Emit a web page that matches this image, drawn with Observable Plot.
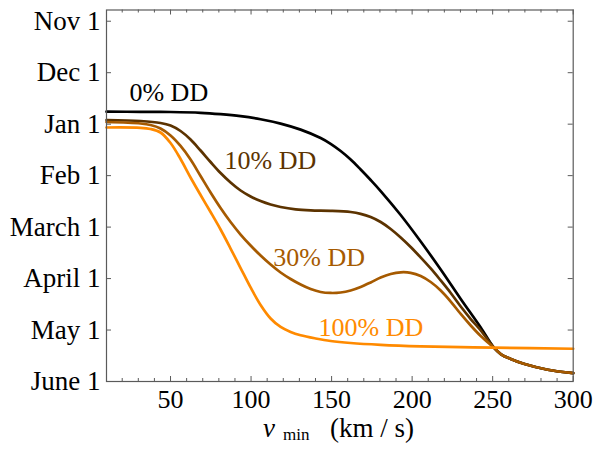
<!DOCTYPE html>
<html><head><meta charset="utf-8">
<script src="https://cdn.jsdelivr.net/npm/d3@7"></script>
<script src="https://cdn.jsdelivr.net/npm/@observablehq/plot@0.6"></script>
<style>html,body{margin:0;padding:0;background:#fff} svg{display:block} svg text{font-family:'Liberation Serif','Times New Roman',serif}</style>
</head><body><div id="chart"></div>
<script>
// y values are months after Nov 1 (0 = Nov 1 ... 7 = June 1)
const monthLabels = ["Nov 1","Dec 1","Jan 1","Feb 1","March 1","April 1","May 1","June 1"];
const monthTicks = [0,1,2,3,4,5,6,7];
const xMajorTicks = [50,100,150,200,250,300];
const xMinorTicks = [20,30,40,60,70,80,90,110,120,130,140,160,170,180,190,210,220,230,240,260,270,280,290];

// vmin (km/s) and date (months after Nov 1) for each curve
const tailV = [255.03, 261.23, 269.3, 284.2, 300];
const tailM = [6.466, 6.563, 6.656, 6.772, 6.839];

const v0 = [10.25, 31.37, 50.01, 68.65, 81.07, 93.50, 105.92, 118.35, 130.77, 143.19, 149.41, 155.62, 161.83, 168.04, 174.26, 180.47, 192.89, 205.32, 217.74, 230.17, 242.59, 250.67];
const m0 = [1.758, 1.760, 1.764, 1.779, 1.806, 1.845, 1.904, 1.989, 2.106, 2.269, 2.382, 2.522, 2.687, 2.881, 3.085, 3.299, 3.765, 4.280, 4.824, 5.397, 5.951, 6.339];

const v10 = [10.25, 31.37, 43.80, 50.01, 56.22, 62.43, 68.65, 74.86, 81.07, 87.28, 93.50, 99.71, 105.92, 112.14, 118.35, 127.66, 137.00, 149.41, 161.83, 168.04, 174.26, 180.47, 186.68, 192.89, 199.10, 205.32, 211.53, 217.74, 223.96, 230.17, 236.38, 242.59, 250.67];
const m10 = [1.919, 1.939, 1.977, 2.026, 2.133, 2.298, 2.512, 2.735, 2.949, 3.133, 3.289, 3.405, 3.493, 3.561, 3.609, 3.654, 3.674, 3.683, 3.707, 3.742, 3.804, 3.901, 4.037, 4.202, 4.387, 4.591, 4.804, 5.037, 5.280, 5.543, 5.786, 6.009, 6.339];

const v30 = [10.25, 31.37, 37.59, 43.80, 50.01, 56.22, 62.43, 68.65, 74.86, 81.07, 87.28, 93.50, 99.71, 105.92, 112.14, 118.35, 124.56, 130.77, 137.00, 143.19, 149.41, 155.62, 161.83, 168.04, 174.26, 180.47, 186.68, 192.89, 199.10, 205.32, 211.53, 217.74, 223.96, 230.17, 236.38, 242.59, 250.67];
const m30 = [1.958, 1.987, 2.016, 2.084, 2.220, 2.424, 2.687, 3.007, 3.328, 3.629, 3.901, 4.144, 4.357, 4.552, 4.727, 4.882, 5.008, 5.115, 5.203, 5.261, 5.280, 5.271, 5.232, 5.164, 5.076, 4.979, 4.911, 4.878, 4.888, 4.950, 5.067, 5.232, 5.446, 5.688, 5.912, 6.116, 6.339];

const v100 = [10.25, 31.37, 37.59, 43.80, 50.01, 56.22, 62.43, 68.65, 74.86, 81.07, 87.28, 93.50, 99.71, 105.92, 112.14, 118.35, 124.56, 130.77, 140.11, 149.41, 161.83, 180.47, 205.32, 230.17, 250.67, 300];
const m100 = [2.065, 2.071, 2.094, 2.162, 2.366, 2.677, 3.036, 3.376, 3.707, 4.047, 4.416, 4.795, 5.173, 5.513, 5.776, 5.941, 6.038, 6.102, 6.164, 6.213, 6.252, 6.287, 6.316, 6.333, 6.343, 6.364];

const seriesNames = ["0% DD","10% DD","30% DD","100% DD"];
const seriesColors = ["#000000","#5c3300","#a65a00","#ff8a00"];
const labelX = [24.5, 83.5, 113.8, 141.9];
const labelY = [1.39, 2.71, 4.595, 5.955];

const seriesV = [v0.concat(tailV), v10.concat(tailV), v30.concat(tailV), v100];
const seriesM = [m0.concat(tailM), m10.concat(tailM), m30.concat(tailM), m100];
const rows = [];
seriesNames.forEach((s, i) => seriesV[i].forEach((v, j) => rows.push({series: s, v, m: seriesM[i][j]})));
const labels = seriesNames.map((s, i) => ({s, x: labelX[i], y: labelY[i], c: seriesColors[i]}));

const W = 595, H = 449, mL = 106, mR = 22.3, mT = 9.5, mB = 68;
const fw = W - mL - mR, fh = H - mT - mB;
const font = "'Liberation Serif', 'Times New Roman', serif";
const frameColor = "#5a5a5a";

const chart = Plot.plot({
  width: W, height: H,
  marginLeft: mL, marginRight: mR, marginTop: mT, marginBottom: mB,
  style: {fontFamily: font, fontSize: "26px", background: "#fff", color: "#000"},
  x: {domain: [10.25, 300]},
  y: {domain: [-0.218, 7], reverse: true},
  color: {domain: seriesNames, range: seriesColors},
  marks: [
    Plot.axisX(xMajorTicks, {anchor: "bottom", tickSize: 0, tickPadding: 8, fontSize: 26, label: null, fill: "#000"}),
    Plot.axisY(monthTicks, {anchor: "left", tickSize: 0, tickPadding: 6, fontSize: 27, label: null, tickFormat: i => monthLabels[i], fill: "#000"}),
    // inward frame ticks
    Plot.tickX(xMajorTicks, {x: d => d, insetTop: fh - 5, stroke: frameColor}),
    Plot.tickX(xMinorTicks, {x: d => d, insetTop: fh - 3, stroke: frameColor}),
    Plot.tickX(xMajorTicks, {x: d => d, insetBottom: fh - 5, stroke: frameColor}),
    Plot.tickX(xMinorTicks, {x: d => d, insetBottom: fh - 3, stroke: frameColor}),
    Plot.tickY(monthTicks, {y: d => d, insetRight: fw - 5, stroke: frameColor}),
    Plot.tickY(monthTicks, {y: d => d, insetLeft: fw - 5, stroke: frameColor}),
    Plot.line(rows, {x: "v", y: "m", z: "series", stroke: "series", strokeWidth: 2.7, curve: "catmull-rom"}),
    Plot.text(labels, {x: "x", y: "y", text: "s", fill: "c", textAnchor: "start", fontSize: 26, fontFamily: font}),
    Plot.frame({stroke: frameColor, strokeWidth: 1.2})
  ]
});
document.getElementById("chart").appendChild(chart);

// axis title: v_min (km / s)
const svg = d3.select(chart.tagName.toLowerCase() === "svg" ? chart : chart.querySelector("svg"));
const t = svg.append("text").style("font-family", font).attr("fill", "#000").attr("text-anchor", "start");
t.append("tspan").attr("x", 263).attr("y", 437).attr("font-size", 27).attr("font-style", "italic").text("v");
t.append("tspan").attr("x", 283).attr("y", 440).attr("font-size", 17).text("min");
t.append("tspan").attr("x", 330).attr("y", 437).attr("font-size", 27).text("(km / s)");
</script>
</body></html>
